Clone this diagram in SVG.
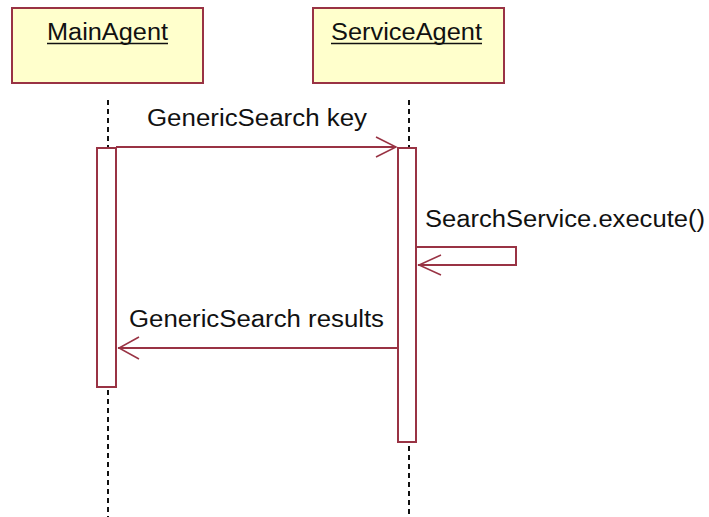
<svg xmlns="http://www.w3.org/2000/svg" width="709" height="517" viewBox="0 0 709 517">
  <style>
    .obj { fill: #FFFFCC; stroke: #993344; stroke-width: 2; }
    .act { fill: #FFFFFF; stroke: #993344; stroke-width: 2; }
    .life { stroke: #111111; stroke-width: 2; stroke-dasharray: 5 4; fill: none; }
    .msg { stroke: #993344; stroke-width: 2; fill: none; }
    .head { stroke: #993344; stroke-width: 1.5; fill: none; }
    .lbl { font-family: "Liberation Sans", Arial, sans-serif; font-size: 23px; fill: #111111; }
    .uline { stroke: #111111; stroke-width: 1.5; }
  </style>
  <rect width="709" height="517" fill="#FFFFFF"/>

  <!-- lifelines -->
  <g id="lifelines">
    <line class="life" x1="108" y1="100" x2="108" y2="147"/>
    <line class="life" x1="108" y1="390" x2="108" y2="517"/>
    <line class="life" x1="409" y1="100" x2="409" y2="147"/>
    <line class="life" x1="409" y1="446" x2="409" y2="517"/>
  </g>

  <g id="MainAgent">
    <rect class="obj" x="12" y="8" width="191" height="75"/>
    <text class="lbl" x="47" y="40" textLength="121" lengthAdjust="spacingAndGlyphs">MainAgent</text>
    <line class="uline" x1="47" y1="43.5" x2="168" y2="43.5"/>
    <rect class="act" x="97" y="148" width="19" height="239"/>
  </g>

  <g id="ServiceAgent">
    <rect class="obj" x="313" y="8" width="191" height="75"/>
    <text class="lbl" x="331" y="40" textLength="151" lengthAdjust="spacingAndGlyphs">ServiceAgent</text>
    <line class="uline" x1="331" y1="43.5" x2="482" y2="43.5"/>
    <rect class="act" x="398" y="148" width="18" height="294"/>
  </g>

  <!-- messages -->
  <g id="connectors">
    <line class="msg" x1="116" y1="147" x2="396" y2="147"/>
    <polyline class="head" points="376,137 396,147 376,157"/>
    <text class="lbl" x="147" y="126" textLength="220" lengthAdjust="spacingAndGlyphs">GenericSearch key</text>

    <polyline class="msg" points="416,247 516,247 516,265 418,265"/>
    <polyline class="head" points="441,255 419,265 441,275"/>
    <text class="lbl" x="425" y="227" textLength="280" lengthAdjust="spacingAndGlyphs">SearchService.execute()</text>

    <line class="msg" x1="398" y1="348" x2="118" y2="348"/>
    <polyline class="head" points="139,337 119,348 139,359"/>
    <text class="lbl" x="129" y="327" textLength="255" lengthAdjust="spacingAndGlyphs">GenericSearch results</text>
  </g>
</svg>
